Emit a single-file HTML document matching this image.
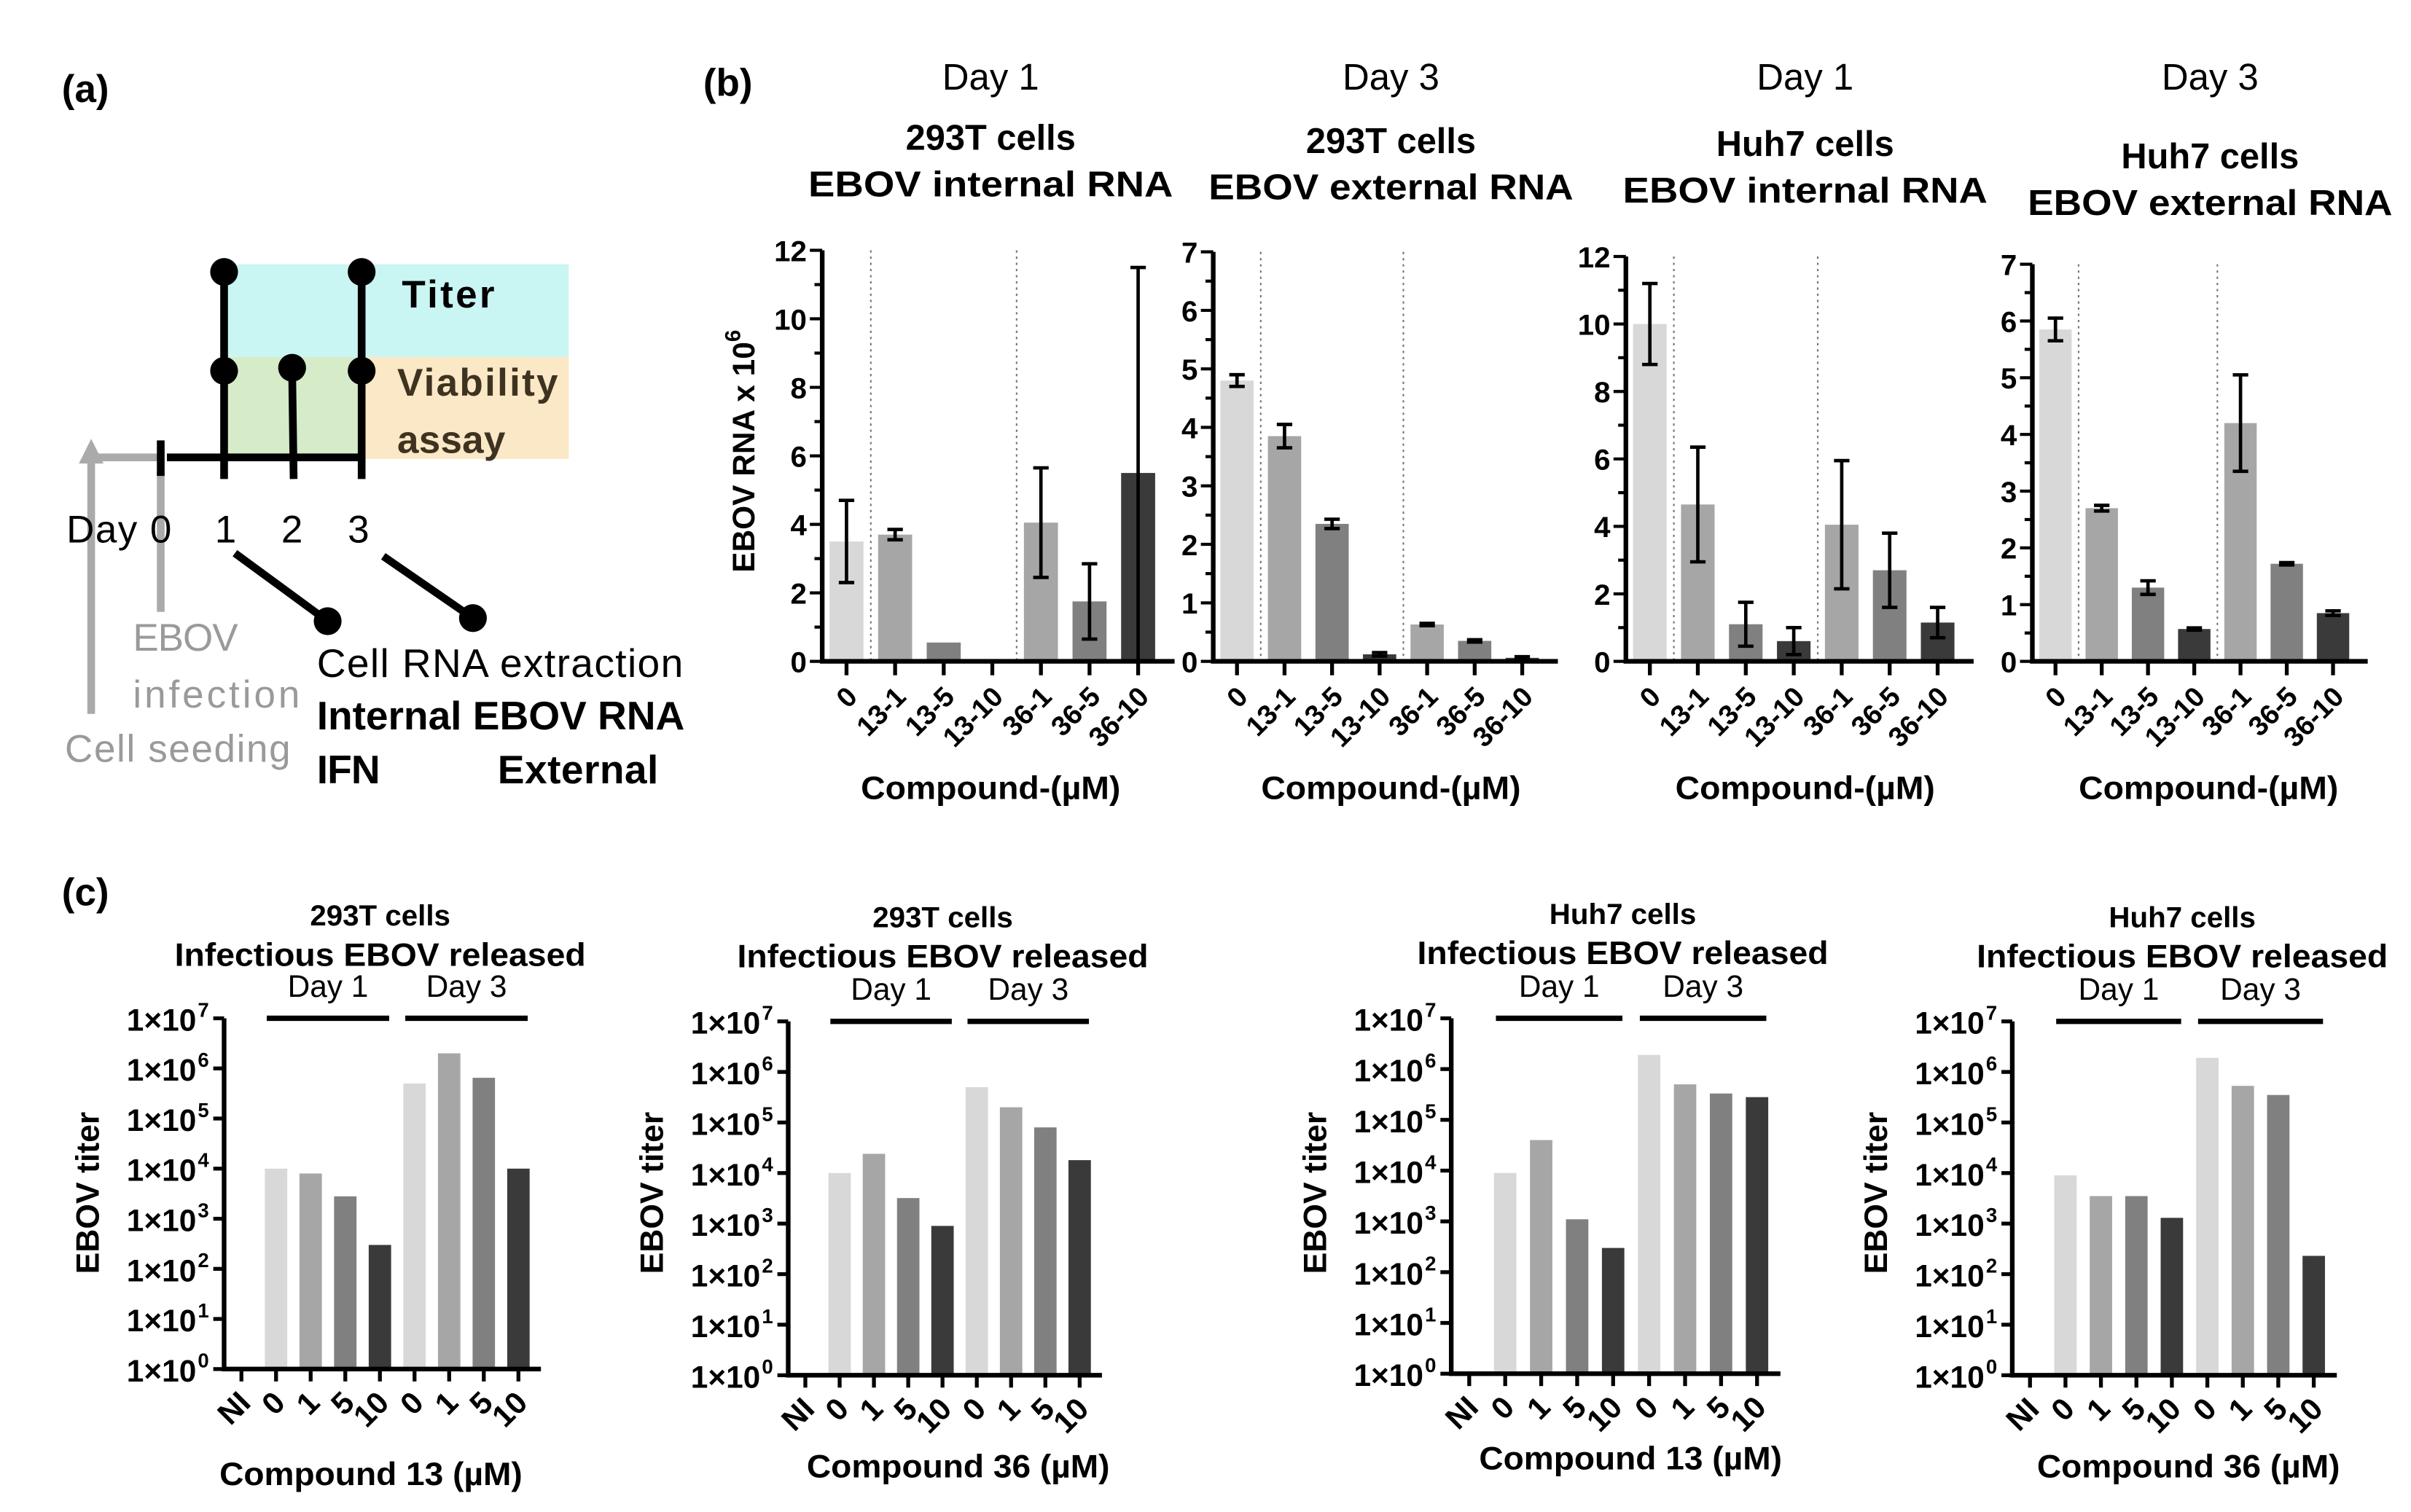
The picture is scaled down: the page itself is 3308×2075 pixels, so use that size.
<!DOCTYPE html>
<html><head><meta charset="utf-8">
<style>
html,body{margin:0;padding:0;background:#fff;}
svg{display:block;}
text{font-family:"Liberation Sans",sans-serif;fill:#000;}
</style></head>
<body>
<svg id="fig" xmlns="http://www.w3.org/2000/svg" width="3308" height="2075" viewBox="0 0 1560 978.5" preserveAspectRatio="none">
<rect x="0" y="0" width="1560" height="978.5" fill="#fff"/>
<g>
<text x="40" y="66" font-size="25" font-weight="bold">(a)</text>
<rect x="145" y="171" width="223" height="60" fill="#c9f5f3"/>
<rect x="145" y="231" width="90" height="66" fill="#d6ebc8"/>
<rect x="235" y="231" width="133" height="66" fill="#fbe8c6"/>
<text x="260" y="199" font-size="25" font-weight="bold" textLength="60">Titer</text>
<text x="257" y="256" font-size="25" font-weight="bold" style="fill:#3d3320" textLength="104">Viability</text>
<text x="257" y="293" font-size="25" font-weight="bold" style="fill:#3d3320" textLength="70">assay</text>
<line x1="59" y1="462" x2="59" y2="290" stroke="#aaa" stroke-width="5"/>
<polygon points="51,300 59,284 67,300" fill="#aaa"/>
<line x1="59" y1="296" x2="104" y2="296" stroke="#aaa" stroke-width="5"/>
<line x1="104" y1="305" x2="104" y2="396" stroke="#aaa" stroke-width="5"/>
<line x1="104" y1="285" x2="104" y2="308" stroke="#000" stroke-width="5"/>
<line x1="108" y1="296" x2="236" y2="296" stroke="#000" stroke-width="5"/>
<line x1="145" y1="176" x2="145" y2="310" stroke="#000" stroke-width="5"/>
<line x1="189" y1="238" x2="190" y2="310" stroke="#000" stroke-width="5"/>
<line x1="234" y1="176" x2="234" y2="310" stroke="#000" stroke-width="5"/>
<circle cx="145" cy="176" r="9" fill="#000"/>
<circle cx="145" cy="240" r="9" fill="#000"/>
<circle cx="189" cy="238" r="9" fill="#000"/>
<circle cx="234" cy="176" r="9" fill="#000"/>
<circle cx="234" cy="240" r="9" fill="#000"/>
<text x="43" y="351" font-size="25" textLength="68">Day 0</text>
<text x="139" y="351" font-size="25">1</text>
<text x="182" y="351" font-size="25">2</text>
<text x="225" y="351" font-size="25">3</text>
<line x1="152" y1="358" x2="212" y2="402" stroke="#000" stroke-width="5"/>
<circle cx="212" cy="402" r="9" fill="#000"/>
<line x1="248" y1="360" x2="306" y2="400" stroke="#000" stroke-width="5"/>
<circle cx="306" cy="400" r="9" fill="#000"/>
<text x="86" y="421" font-size="25" style="fill:#9a9a9a" textLength="68">EBOV</text>
<text x="86" y="458" font-size="25" style="fill:#9a9a9a" textLength="108">infection</text>
<text x="42" y="493" font-size="25" style="fill:#9a9a9a" textLength="146">Cell seeding</text>
<text x="205" y="438" font-size="26" textLength="237">Cell RNA extraction</text>
<text x="205" y="472" font-size="26" font-weight="bold" textLength="238">Internal EBOV RNA</text>
<text x="205" y="507" font-size="26" font-weight="bold" textLength="41">IFN</text>
<text x="322" y="507" font-size="26" font-weight="bold" textLength="104">External</text>
</g>
<text x="455" y="62" font-size="25" font-weight="bold">(b)</text>
<text x="40" y="586" font-size="25" font-weight="bold">(c)</text>
<g id="charts"></g>
</svg>
<script>
// ---- Panel (b) data ----
const bCategories = ["0","13-1","13-5","13-10","36-1","36-5","36-10"];
const b1Values = [3.5, 3.7, 0.55, 0, 4.05, 1.75, 5.5];
const b1Errors = [1.2, 0.15, 0, 0, 1.6, 1.1, 6.0];
const b2Values = [4.8, 3.85, 2.35, 0.12, 0.63, 0.35, 0.06];
const b2Errors = [0.1, 0.2, 0.08, 0.03, 0.02, 0.02, 0.02];
const b3Values = [10.0, 4.65, 1.1, 0.6, 4.05, 2.7, 1.15];
const b3Errors = [1.2, 1.7, 0.65, 0.4, 1.9, 1.1, 0.45];
const b4Values = [5.85, 2.7, 1.3, 0.57, 4.2, 1.72, 0.85];
const b4Errors = [0.2, 0.05, 0.12, 0.02, 0.85, 0.02, 0.04];
const bTicks12 = [0, 2, 4, 6, 8, 10, 12];
const bTicks7 = [0, 1, 2, 3, 4, 5, 6, 7];
// ---- Panel (c) data ----
const cCategories = ["NI","0","1","5","10","0","1","5","10"];
const c1Values = [1, 1e4, 8e3, 2.8e3, 3e2, 5e5, 2e6, 6.5e5, 1e4];
const c2Values = [1, 1e4, 2.4e4, 3.2e3, 9e2, 5e5, 2e5, 8e4, 1.8e4];
const c3Values = [1, 9e3, 4e4, 1.1e3, 3e2, 1.9e6, 5e5, 3.3e5, 2.8e5];
const c4Values = [1, 9e3, 3.5e3, 3.5e3, 1.3e3, 1.9e6, 5.3e5, 3.5e5, 2.3e2];
const cTickExps = [0, 1, 2, 3, 4, 5, 6, 7];

const NS = "http://www.w3.org/2000/svg";
const root = document.getElementById("charts");
function el(tag, attrs, parent) {
  const e = document.createElementNS(NS, tag);
  for (const k in attrs) e.setAttribute(k, attrs[k]);
  (parent || root).appendChild(e);
  return e;
}
function txt(s, attrs, parent) { const t = el("text", attrs, parent); t.textContent = s; return t; }
const bColors = ["#d8d8d8","#a6a6a6","#808080","#3a3a3a","#a6a6a6","#808080","#3a3a3a"];
const cColors = ["#fff","#d8d8d8","#a6a6a6","#808080","#3a3a3a","#d8d8d8","#a6a6a6","#808080","#3a3a3a"];

function drawB(cfg, values, errors, ticks) {
  const g = el("g", {});
  
  
  const max = ticks[ticks.length - 1];
  const y = v => cfg.yBot - (v / max) * (cfg.yBot - cfg.yTop);
  const sp = (cfg.xEnd - cfg.x0) / 7.25;
  const cx = i => cfg.x0 + sp * (i + 0.5);
  [0.5, 3.5].forEach(k => {
    const xx = cx(0) + sp * k;
    const d = el("line", {x1: xx, y1: cfg.yTop, x2: xx, y2: cfg.yBot, stroke: "#777", "stroke-width": 1, "stroke-dasharray": "1.5,2.5"}, g);
    
    
  });
  values.forEach((v, i) => {
    const bw = sp * 0.7;
    const r = el("rect", {x: cx(i) - bw/2, y: y(v), width: bw, height: cfg.yBot - y(v), fill: bColors[i]}, g);
    
    
    if (errors[i] > 0) {
      const e = el("path", {d: `M${cx(i)},${y(v+errors[i])}V${y(Math.max(0,v-errors[i]))}M${cx(i)-5},${y(v+errors[i])}h10M${cx(i)-5},${y(Math.max(0,v-errors[i]))}h10`, stroke: "#000", "stroke-width": 2.2, fill: "none"}, g);
      
      
    }
    const tk = el("line", {x1: cx(i), y1: cfg.yBot, x2: cx(i), y2: cfg.yBot + 9, stroke: "#000", "stroke-width": 2.5}, g);
    
    
    const lb = txt(bCategories[i], {x: cx(i) + 8, y: cfg.yBot + 24, "font-size": 18, "font-weight": "bold", "text-anchor": "end", transform: `rotate(-45 ${cx(i)+8} ${cfg.yBot+24})`}, g);
    
    
  });
  const ax = el("path", {d: `M${cfg.x0},${cfg.yTop}V${cfg.yBot}H${cfg.xEnd}`, stroke: "#000", "stroke-width": 3, fill: "none"}, g);
  
  
  const minorStep = max === 12 ? 1 : 0.5;
  for (let v = 0; v <= max + 1e-9; v += minorStep) {
    const major = ticks.includes(Math.round(v*100)/100);
    const t = el("line", {x1: cfg.x0 - (major ? 8 : 5), y1: y(v), x2: cfg.x0, y2: y(v), stroke: "#000", "stroke-width": 2}, g);
    
    
  }
  ticks.forEach(v => {
    const t = txt(String(v), {x: cfg.x0 - 10, y: y(v) + 7, "font-size": 19, "font-weight": "bold", "text-anchor": "end"}, g);
    
    
  });
  const t1 = txt(cfg.day, {x: cfg.tc, y: 58, "font-size": 24, "text-anchor": "middle"}, g);
  
  
  const t2 = txt(cfg.t2, {x: cfg.tc, y: cfg.t2y, "font-size": 23, "font-weight": "bold", "text-anchor": "middle"}, g);
  
  
  const t3 = txt(cfg.t3, {x: cfg.tc, y: cfg.t2y + 30, "font-size": 23, "font-weight": "bold", "text-anchor": "middle", textLength: 236, lengthAdjust: "spacingAndGlyphs"}, g);
  
  
  const xl = txt("Compound-(µM)", {x: cfg.xc, y: 517, "font-size": 21, "font-weight": "bold", "text-anchor": "middle", textLength: 168, lengthAdjust: "spacingAndGlyphs"}, g);
  
  
  if (cfg.ylabel) {
    const yl = el("text", {x: 0, y: 0, "font-size": 20, "font-weight": "bold", "text-anchor": "middle", transform: `translate(488 292) rotate(-90)`}, g);
    yl.textContent = "EBOV RNA x 10";
    const sup = el("tspan", {"font-size": 14, dy: -9}, yl); sup.textContent = "6";
    
    
  }
}

drawB({name: "chart-293t-day1-internal", x0: 532, xEnd: 760, yTop: 162, yBot: 428, tc: 641, xc: 641, day: "Day 1", t2: "293T cells", t3: "EBOV internal RNA", t2y: 97, ylabel: true}, b1Values, b1Errors, bTicks12);
drawB({name: "chart-293t-day3-external", x0: 785, xEnd: 1008, yTop: 163, yBot: 428, tc: 900, xc: 900, day: "Day 3", t2: "293T cells", t3: "EBOV external RNA", t2y: 99}, b2Values, b2Errors, bTicks7);
drawB({name: "chart-huh7-day1-internal", x0: 1052, xEnd: 1277, yTop: 166, yBot: 428, tc: 1168, xc: 1168, day: "Day 1", t2: "Huh7 cells", t3: "EBOV internal RNA", t2y: 101}, b3Values, b3Errors, bTicks12);
drawB({name: "chart-huh7-day3-external", x0: 1315, xEnd: 1532, yTop: 171, yBot: 428, tc: 1430, xc: 1429, day: "Day 3", t2: "Huh7 cells", t3: "EBOV external RNA", t2y: 109}, b4Values, b4Errors, bTicks7);

function drawC(cfg, values) {
  const g = el("g", {});
  
  
  const y = v => cfg.yBot - (Math.log10(v) / 7) * (cfg.yBot - cfg.yTop);
  const sp = (cfg.xEnd - cfg.x0) / 9.15;
  const cx = i => cfg.x0 + sp * (i + 0.5);
  values.forEach((v, i) => {
    if (v > 1) {
      const bw = 14.5;
      const r = el("rect", {x: cx(i) - bw/2, y: y(v), width: bw, height: cfg.yBot - y(v), fill: cColors[i]}, g);
      
      
    }
    const tk = el("line", {x1: cx(i), y1: cfg.yBot, x2: cx(i), y2: cfg.yBot + 8, stroke: "#000", "stroke-width": 2.5}, g);
    
    
    const lb = txt(cCategories[i], {x: cx(i) + 7, y: cfg.yBot + 23, "font-size": 20, "font-weight": "bold", "text-anchor": "end", transform: `rotate(-45 ${cx(i)+7} ${cfg.yBot+23})`}, g);
    
    
  });
  const ax = el("path", {d: `M${cfg.x0},${cfg.yTop}V${cfg.yBot}H${cfg.xEnd}`, stroke: "#000", "stroke-width": 3, fill: "none"}, g);
  
  
  cTickExps.forEach(e => {
    const yy = y(Math.pow(10, e));
    const t = el("line", {x1: cfg.x0 - 7, y1: yy, x2: cfg.x0, y2: yy, stroke: "#000", "stroke-width": 2.5}, g);
    
    
    const lb = txt("1×10", {x: cfg.x0 - 18, y: yy + 8, "font-size": 20, "font-weight": "bold", "text-anchor": "end"}, g);
    
    
    const sp2 = txt(String(e), {x: cfg.x0 - 17, y: yy - 1, "font-size": 13, "font-weight": "bold"}, g);
    
    
  });
  [[1, 4, "Day 1"], [5, 8, "Day 3"]].forEach(([a, b, s]) => {
    const l = el("line", {x1: cx(a) - 6, y1: cfg.yTop, x2: cx(b) + 6, y2: cfg.yTop, stroke: "#000", "stroke-width": 3.5}, g);
    
    
    const t = txt(s, {x: (cx(a) + cx(b)) / 2, y: cfg.yTop - 14, "font-size": 20, "text-anchor": "middle"}, g);
    
    
  });
  const t1 = txt(cfg.t1, {x: cfg.tc, y: cfg.t1y, "font-size": 19, "font-weight": "bold", "text-anchor": "middle"}, g);
  
  
  const t2 = txt("Infectious EBOV released", {x: cfg.tc, y: cfg.t1y + 26, "font-size": 21, "font-weight": "bold", "text-anchor": "middle", textLength: 266, lengthAdjust: "spacingAndGlyphs"}, g);
  
  
  const yl = txt("EBOV titer", {x: 0, y: 0, "font-size": 21, "font-weight": "bold", "text-anchor": "middle", transform: `translate(${cfg.x0 - 81} 772) rotate(-90)`}, g);
  
  
  const xl = txt(cfg.xt, {x: cfg.xc, y: cfg.xy, "font-size": 21, "font-weight": "bold", "text-anchor": "middle", textLength: 196, lengthAdjust: "spacingAndGlyphs"}, g);
  
  
}

drawC({name: "chart-293t-titer-c13", x0: 145, xEnd: 350, yTop: 659, yBot: 886, tc: 246, t1: "293T cells", t1y: 599, xt: "Compound 13 (µM)", xc: 240, xy: 961}, c1Values);
drawC({name: "chart-293t-titer-c36", x0: 510, xEnd: 713, yTop: 661, yBot: 890, tc: 610, t1: "293T cells", t1y: 600, xt: "Compound 36 (µM)", xc: 620, xy: 956}, c2Values);
drawC({name: "chart-huh7-titer-c13", x0: 939, xEnd: 1152, yTop: 659, yBot: 889, tc: 1050, t1: "Huh7 cells", t1y: 598, xt: "Compound 13 (µM)", xc: 1055, xy: 951}, c3Values);
drawC({name: "chart-huh7-titer-c36", x0: 1302, xEnd: 1512, yTop: 661, yBot: 890, tc: 1412, t1: "Huh7 cells", t1y: 600, xt: "Compound 36 (µM)", xc: 1416, xy: 956}, c4Values);
</script>
</body></html>
